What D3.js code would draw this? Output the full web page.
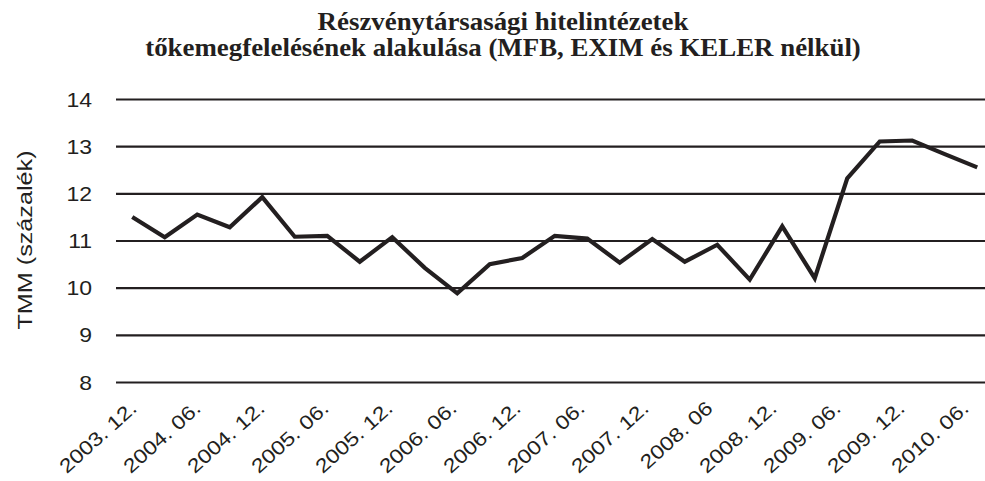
<!DOCTYPE html>
<html>
<head>
<meta charset="utf-8">
<script src="https://cdn.jsdelivr.net/npm/d3@7"></script>
<style>
  body { margin: 0; background: #fff; }
  svg { display: block; }
  .title { font-family: "Liberation Serif", "Times New Roman", serif; font-weight: bold; fill: #231f20; }
  .axes text { font-family: "Liberation Sans", Arial, sans-serif; fill: #231f20; }
</style>
</head>
<body>
<div id="chart"></div>
<script>
// quarterly TMM values, 2003.12 -> 2010.06
var quarters = ["2003. 12.", "2004. 03.", "2004. 06.", "2004. 09.", "2004. 12.", "2005. 03.", "2005. 06.",
  "2005. 09.", "2005. 12.", "2006. 03.", "2006. 06.", "2006. 09.", "2006. 12.", "2007. 03.", "2007. 06.",
  "2007. 09.", "2007. 12.", "2008. 03.", "2008. 06", "2008. 09.", "2008. 12.", "2009. 03.", "2009. 06.",
  "2009. 09.", "2009. 12.", "2010. 03.", "2010. 06."]
var tmm = [11.5, 11.07, 11.55, 11.28, 11.92, 11.08, 11.1,
  10.55, 11.07, 10.42, 9.88, 10.5, 10.63, 11.1, 11.04,
  10.53, 11.03, 10.55, 10.91, 10.17, 11.3, 10.2, 12.32,
  13.1, 13.12, 12.83, 12.55]
var tickLabels = ["2003. 12.", "2004. 06.", "2004. 12.", "2005. 06.", "2005. 12.", "2006. 06.", "2006. 12.",
  "2007. 06.", "2007. 12.", "2008. 06", "2008. 12.", "2009. 06.", "2009. 12.", "2010. 06."]
var yTicks = [8, 9, 10, 11, 12, 13, 14]
var titleLines = ["Részvénytársasági hitelintézetek", "tőkemegfelelésének alakulása (MFB, EXIM és KELER nélkül)"]
var yTitle = "TMM  (százalék)"

var W = 985, H = 481
var ink = "#231f20"
var sx = 1.18   // the original lettering is wider than Arial

var svg = d3.select("#chart").append("svg")
  .attr("width", W)
  .attr("height", H)

// scales
var x = d3.scaleBand()
  .domain(quarters)
  .range([116, 993.5])

// labels sit on a slightly tighter pitch than the points in the original
var xl = d3.scaleBand()
  .domain(quarters)
  .range([122, 986])

var y = d3.scaleLinear()
  .domain([8, 14])
  .range([382, 99])

// title
svg.append("g").selectAll("text")
  .data(titleLines)
  .enter()
  .append("text")
  .attr("class", "title")
  .attr("text-anchor", "middle")
  .attr("font-size", 24)
  .attr("transform", function(d, i) { return "translate(503," + (29.5 + i * 26) + ") scale(1.12,1.04)" })
  .text(function(d) { return d })

// y axis + gridlines
var yAxis = svg.append("g")
  .attr("class", "axes")
  .attr("transform", "translate(116,0)")
  .call(d3.axisLeft(y).tickValues(yTicks).tickFormat(d3.format("d"))
    .tickSize(-(993.5 - 116)).tickPadding(0))

yAxis.select(".domain").remove()
yAxis.selectAll("line")
  .attr("stroke", ink)
  .attr("stroke-width", 2.2)
yAxis.selectAll("text")
  .attr("x", 0)
  .attr("dy", "0.36em")
  .attr("font-size", 19.5)
  .attr("transform", "translate(-24,0) scale(" + sx + ",1)")

// x axis labels
var xAxis = svg.append("g")
  .attr("class", "axes")
  .attr("transform", "translate(0,410)")
  .call(d3.axisBottom(xl)
    .tickValues(quarters.filter(function(d, i) { return i % 2 == 0 }))
    .tickFormat(function(d, i) { return tickLabels[i] })
    .tickSize(0))

xAxis.select(".domain").remove()
xAxis.selectAll("text")
  .attr("x", 0)
  .attr("y", 0)
  .attr("dy", 0)
  .attr("font-size", 19.5)
  .style("text-anchor", "end")
  .attr("transform", "rotate(-42) scale(" + sx + ",1)")

// y title
svg.append("text")
  .attr("class", "axes")
  .attr("text-anchor", "middle")
  .attr("font-size", 21)
  .attr("transform", "translate(31.5,240) rotate(-90) scale(1.2,1)")
  .style("font-family", "'Liberation Sans', Arial, sans-serif")
  .style("fill", ink)
  .text(yTitle)

// the line
var line = d3.line()
  .x(function(d, i) { return x(quarters[i]) + x.bandwidth() / 2 })
  .y(function(d) { return y(d) })

svg.append("path")
  .datum(tmm)
  .attr("d", line)
  .attr("fill", "none")
  .attr("stroke", ink)
  .attr("stroke-width", 4.2)
  .attr("stroke-linejoin", "miter")
</script>
</body>
</html>
